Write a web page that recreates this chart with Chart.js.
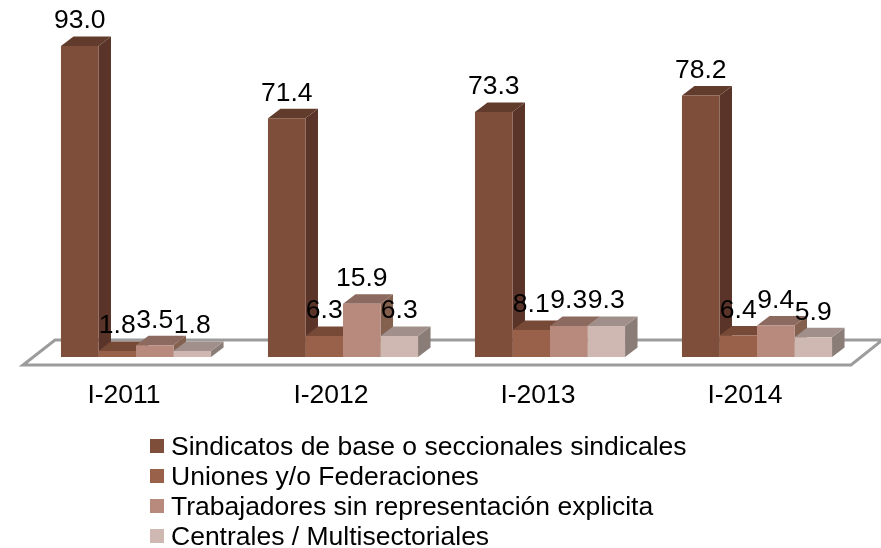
<!DOCTYPE html>
<html>
<head>
<meta charset="utf-8">
<style>html,body{margin:0;padding:0;background:#fff}canvas{display:block}</style>
<script src="https://cdn.jsdelivr.net/npm/chart.js@4"></script>
</head>
<body>
<canvas id="c" width="881" height="548"></canvas>
<script>
const categories = ["I-2011", "I-2012", "I-2013", "I-2014"];
const sindicatos = [93.0, 71.4, 73.3, 78.2];
const uniones = [1.8, 6.3, 8.1, 6.4];
const trabajadores = [3.5, 15.9, 9.3, 9.4];
const centrales = [1.8, 6.3, 9.3, 5.9];
const seriesNames = [
  "Sindicatos de base o seccionales sindicales",
  "Uniones y/o Federaciones",
  "Trabajadores sin representación explicita",
  "Centrales / Multisectoriales"
];
const frontColors = ["#7F4E3B", "#99614A", "#B88A7E", "#CFB8B1"];
const topColors = ["#613C2D", "#774A38", "#8C6A5F", "#A08F8A"];
const sideColors = ["#5A3428", "#6E4333", "#84604F", "#8A7D78"];
const FONT = "'Liberation Sans', Arial, sans-serif";
const FONT_SIZE = 26.5;
const DX = 12.5, DY = 9.5;

const floorPlugin = {
  id: "floor3d",
  beforeDatasetsDraw(chart) {
    const { ctx, chartArea: a, scales: { y } } = chart;
    const base = y.getPixelForValue(0);
    ctx.save();
    ctx.strokeStyle = "#9C9C9C";
    ctx.lineWidth = 3;
    ctx.lineJoin = "miter";
    ctx.beginPath();
    ctx.moveTo(a.left - 9.5, base + 8);
    ctx.lineTo(a.right - 9.5, base + 8);
    ctx.lineTo(a.right + 22, base - 17);
    ctx.lineTo(a.left + 22.5, base - 17);
    ctx.closePath();
    ctx.stroke();
    // side and top faces, left to right so later bars cover earlier ones
    const n = chart.data.labels.length;
    for (let c = 0; c < n; c++) {
      chart.data.datasets.forEach((ds, i) => {
        const bar = chart.getDatasetMeta(i).data[c];
        const w = bar.width, l = bar.x - w / 2, r = bar.x + w / 2, t = bar.y;
        ctx.fillStyle = sideColors[i];
        ctx.beginPath();
        ctx.moveTo(r, t); ctx.lineTo(r + DX, t - DY);
        ctx.lineTo(r + DX, base - DY); ctx.lineTo(r, base);
        ctx.closePath(); ctx.fill();
        ctx.fillStyle = topColors[i];
        ctx.beginPath();
        ctx.moveTo(l, t); ctx.lineTo(r, t);
        ctx.lineTo(r + DX, t - DY); ctx.lineTo(l + DX, t - DY);
        ctx.closePath(); ctx.fill();
      });
    }
    ctx.restore();
  },
  afterDatasetsDraw(chart) {
    const { ctx } = chart;
    ctx.save();
    ctx.fillStyle = "#000";
    ctx.font = FONT_SIZE + "px " + FONT;
    ctx.textAlign = "center";
    ctx.textBaseline = "middle";
    chart.data.datasets.forEach((ds, i) => {
      chart.getDatasetMeta(i).data.forEach((bar, c) => {
        ctx.fillText(ds.data[c].toFixed(1), bar.x, bar.y - 25);
      });
    });
    ctx.restore();
  },
  afterDraw(chart) {
    const { ctx } = chart;
    ctx.save();
    ctx.font = FONT_SIZE + "px " + FONT;
    ctx.textAlign = "left";
    ctx.textBaseline = "middle";
    chart.data.datasets.forEach((ds, i) => {
      const cy = 448 + i * 30;
      ctx.fillStyle = frontColors[i];
      ctx.fillRect(150, cy - 9, 14, 14);
      ctx.fillStyle = "#000";
      ctx.fillText(ds.label, 171, cy);
    });
    ctx.restore();
  }
};

new Chart(document.getElementById("c"), {
  type: "bar",
  data: {
    labels: categories,
    datasets: [sindicatos, uniones, trabajadores, centrales].map((d, i) => ({
      label: seriesNames[i],
      data: d,
      backgroundColor: frontColors[i],
      borderWidth: 0,
      categoryPercentage: 0.725,
      barPercentage: 1
    }))
  },
  options: {
    responsive: false,
    animation: false,
    layout: { padding: { left: 32.5, right: 20.5, top: 22.6, bottom: 0 } },
    plugins: { legend: { display: false }, tooltip: { enabled: false } },
    scales: {
      x: {
        grid: { display: false },
        border: { display: false },
        afterFit(s) { s.height = 191; },
        ticks: {
          color: "#000",
          font: { family: FONT, size: FONT_SIZE },
          labelOffset: -12,
          padding: 15,
          maxRotation: 0,
          autoSkip: false
        }
      },
      y: { display: false, min: 0, max: 100 }
    }
  },
  plugins: [floorPlugin]
});
</script>
</body>
</html>
